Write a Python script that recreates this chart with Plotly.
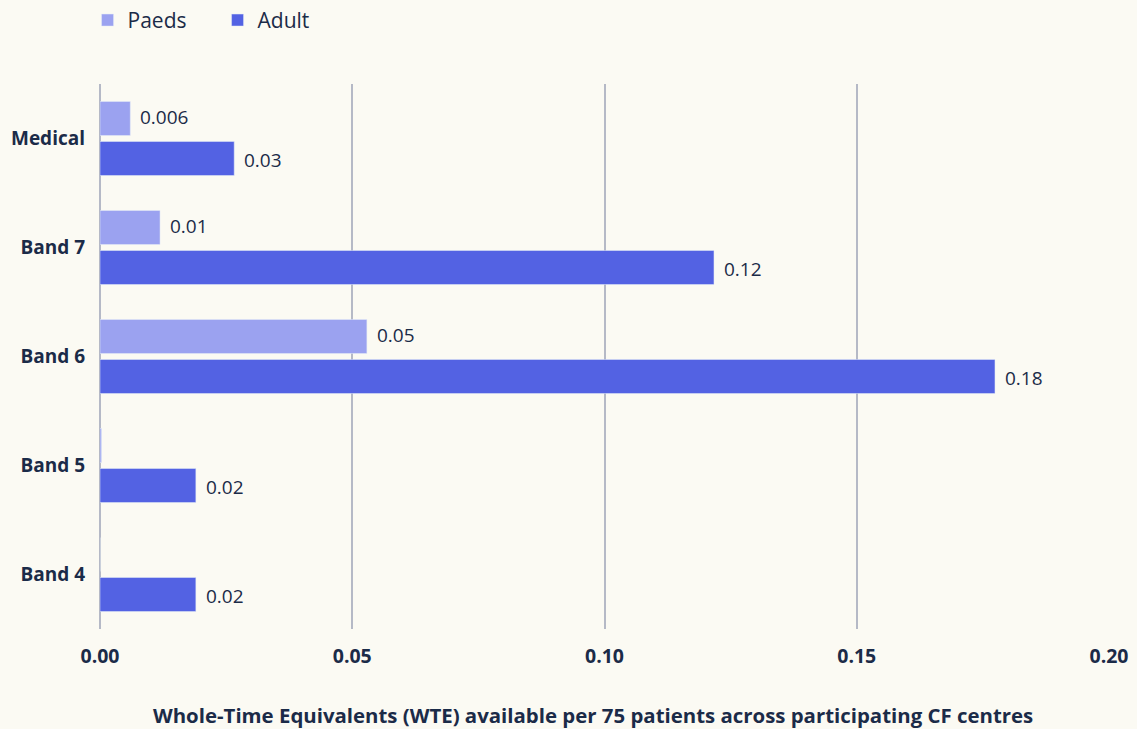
import plotly.graph_objects as go

# Staffing levels per 75 patients, by grade
categories = ["Medical", "Band 7", "Band 6", "Band 5", "Band 4"]
paeds = [0.006, 0.0119, 0.0529, 0.0003, 0.0]
adult = [0.0266, 0.1217, 0.1774, 0.019, 0.019]
x_ticks = [0.00, 0.05, 0.10, 0.15, 0.20]

PAEDS_COLOR = "#9ba2f0"
ADULT_COLOR = "#5362e3"
TEXT_COLOR = "#1b2b48"
GRID_COLOR = "#b5b9c6"
BG = "#fbfaf3"
FONT = "Open Sans"


def fmt(v):
    if v < 0.001:
        return ""
    if v < 0.01:
        return f"{v:.3f}"
    return f"{v:.2f}"


fig = go.Figure()
fig.add_trace(go.Bar(name="Paeds", y=categories, x=paeds, orientation="h",
                     marker=dict(color=PAEDS_COLOR), hoverinfo="x+y"))
fig.add_trace(go.Bar(name="Adult", y=categories, x=adult, orientation="h",
                     marker=dict(color=ADULT_COLOR), hoverinfo="x+y"))

# Value labels just past each bar end
annotations = []
for i, series in enumerate([paeds, adult]):
    offset = -0.2 if i == 0 else 0.2
    for j, v in enumerate(series):
        label = fmt(v)
        if not label:
            continue
        annotations.append(dict(
            x=v, y=j + offset, xref="x", yref="y", text=label,
            showarrow=False, xanchor="left", yanchor="middle", xshift=8,
            font=dict(family=FONT, size=19, color=TEXT_COLOR),
        ))

annotations.append(dict(
    x=0.4886, y=-0.158, xref="paper", yref="paper", xanchor="center", yanchor="middle",
    text="<b>Whole-Time Equivalents (WTE) available per 75 patients across participating CF centres</b>",
    showarrow=False, font=dict(family=FONT, size=20.4, color=TEXT_COLOR),
))

fig.update_layout(
    width=1137, height=729,
    margin=dict(l=100, r=28, t=84, b=100, autoexpand=False),
    paper_bgcolor=BG, plot_bgcolor=BG,
    barmode="group", bargap=0.266, bargroupgap=0.15,
    font=dict(family=FONT, color=TEXT_COLOR),
    legend=dict(orientation="h", xref="container", yref="container",
                x=0.077, y=0.972, xanchor="left", yanchor="middle",
                font=dict(family=FONT, size=21, color=TEXT_COLOR),
                itemwidth=30, entrywidth=85, entrywidthmode="pixels",
                traceorder="normal", bgcolor="rgba(0,0,0,0)"),
    annotations=annotations,
)

fig.update_xaxes(range=[0, 0.2], tickvals=x_ticks,
                 ticktext=[f"<b>{t:.2f}</b>" for t in x_ticks],
                 showgrid=True, gridcolor=GRID_COLOR, gridwidth=2,
                 zeroline=True, zerolinecolor=GRID_COLOR, zerolinewidth=2,
                 tickfont=dict(family=FONT, size=19.5, color=TEXT_COLOR),
                 ticks="", ticklabelstandoff=13, fixedrange=True)
fig.update_yaxes(autorange="reversed", categoryorder="array", categoryarray=categories,
                 tickvals=categories, ticktext=[f"<b>{c}</b>" for c in categories],
                 tickfont=dict(family=FONT, size=19, color=TEXT_COLOR),
                 showgrid=False, ticks="", ticklabelstandoff=14, fixedrange=True)

fig.write_html("out.html")
